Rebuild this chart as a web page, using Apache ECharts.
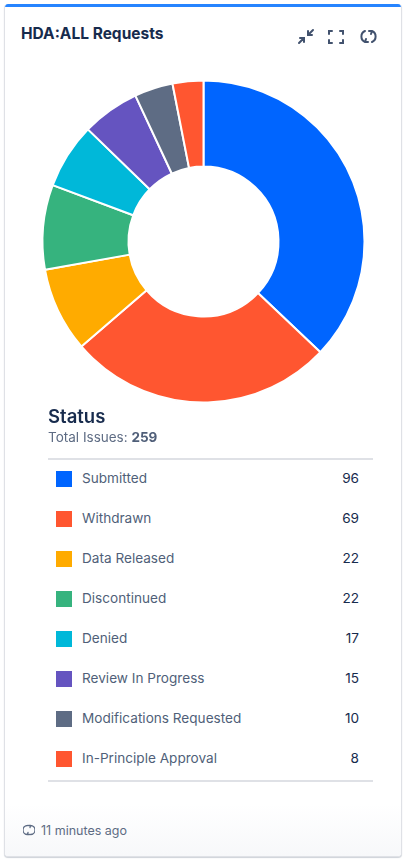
<!DOCTYPE html>
<html><head><meta charset="utf-8">
<script src="https://cdn.jsdelivr.net/npm/echarts@6/dist/echarts.min.js"></script>
<style>
html,body{margin:0;padding:0;background:#fff;font-family:"Inter","Noto Sans",Roboto,sans-serif;}
#card{position:absolute;left:4px;top:4px;width:396px;height:852px;border:1px solid #dfe1e6;border-top:none;border-radius:4px;box-shadow:0 1px 1px rgba(9,30,66,0.2);overflow:hidden;background:#fff;}
#topbar{position:absolute;left:0;top:0;width:100%;height:3px;background:#2684FF;}
#title{position:absolute;left:16px;top:20px;font-size:15.5px;font-weight:700;color:#172B4D;}
#icons{position:absolute;left:290px;top:22px;}
#chart{position:absolute;left:0;top:60px;width:396px;height:360px;}
#status{position:absolute;left:43px;top:401px;font-size:18.5px;font-weight:600;color:#172B4D;}
#total{position:absolute;left:43px;top:425px;font-size:13.5px;color:#5E6C84;}
#total b{color:#505F79;}
#legend{position:absolute;left:43px;top:454px;width:325px;border-top:2px solid #dfe1e6;border-bottom:2px solid #dfe1e6;}
.row{height:40px;position:relative;}
.sq{position:absolute;left:8px;top:11px;width:16px;height:16px;}
.lbl{position:absolute;left:34px;top:10px;font-size:13.6px;color:#505F79;}
.val{position:absolute;right:14px;top:10px;font-size:13.6px;color:#172B4D;}
#footer{position:absolute;left:0;top:800px;width:100%;height:52px;background:linear-gradient(#fff,#f7f8fa);}
#foot{position:absolute;left:18px;top:819px;font-size:12.5px;color:#5E6C84;}
</style></head><body>
<div id="card">
<div id="topbar"></div>
<div id="title">HDA:ALL Requests</div>
<svg id="icons" width="100" height="22" viewBox="0 0 100 22" fill="none" stroke="#42526E" stroke-width="2" stroke-linecap="round">
 <path d="M4 17 L9 12 M5 12 H9 V16"/><path d="M18 4 L13 9 M13 5 V9 H17"/>
 <path d="M34 8 V5 H37 M45 5 H48 V8 M48 14 V17 H45 M37 17 H34 V14"/>
 <path d="M70 5 A6 6 0 0 0 70 16 L73 16 M70 16 L71 13"/>
 <path d="M77 16 A6 6 0 0 0 77 5 L74 5 M77 5 L76 8"/>
</svg>
<div id="chart"></div>
<div id="status">Status</div>
<div id="total">Total Issues: <b id="totalv"></b></div>
<div id="legend"></div>
<div id="footer"></div>
<div id="foot"><svg width="12" height="12" viewBox="0 0 12 12" fill="none" stroke="#5E6C84" stroke-width="1.3" stroke-linecap="round" style="vertical-align:-1px;margin-right:6px"><path d="M4.5 1.5 A4.5 4.5 0 0 0 4.5 10.5 L6.5 10.5 M4.5 10.5 L5 8.5"/><path d="M7.5 10.5 A4.5 4.5 0 0 0 7.5 1.5 L5.5 1.5 M7.5 1.5 L7 3.5"/></svg>11 minutes ago</div>
</div>
<script>
const categories = ["Submitted","Withdrawn","Data Released","Discontinued","Denied","Review In Progress","Modifications Requested","In-Principle Approval"];
const values = [96,69,22,22,17,15,10,8];
const colors = ["#0065FF","#FF5630","#FFAB00","#36B37E","#00B8D9","#6554C0","#5E6C84","#FF5630"];

const total = values.reduce((a,b)=>a+b,0);
document.getElementById('totalv').textContent = total;
const leg = document.getElementById('legend');
categories.forEach((c,i)=>{
  const r=document.createElement('div');r.className='row';
  r.innerHTML='<div class="sq" style="background:'+colors[i]+'"></div><div class="lbl">'+c+'</div><div class="val">'+values[i]+'</div>';
  leg.appendChild(r);
});
const chart = echarts.init(document.getElementById('chart'));
chart.setOption({
  animation:false,
  series:[{
    type:'pie',
    center:[198.5,177.5],
    radius:[75,161],
    startAngle:90,
    clockwise:true,
    label:{show:false},
    labelLine:{show:false},
    emphasis:{disabled:true},
    itemStyle:{borderColor:'#fff',borderWidth:2},
    data:categories.map((c,i)=>({name:c,value:values[i],itemStyle:{color:colors[i]}}))
  }]
});
</script>
</body></html>
